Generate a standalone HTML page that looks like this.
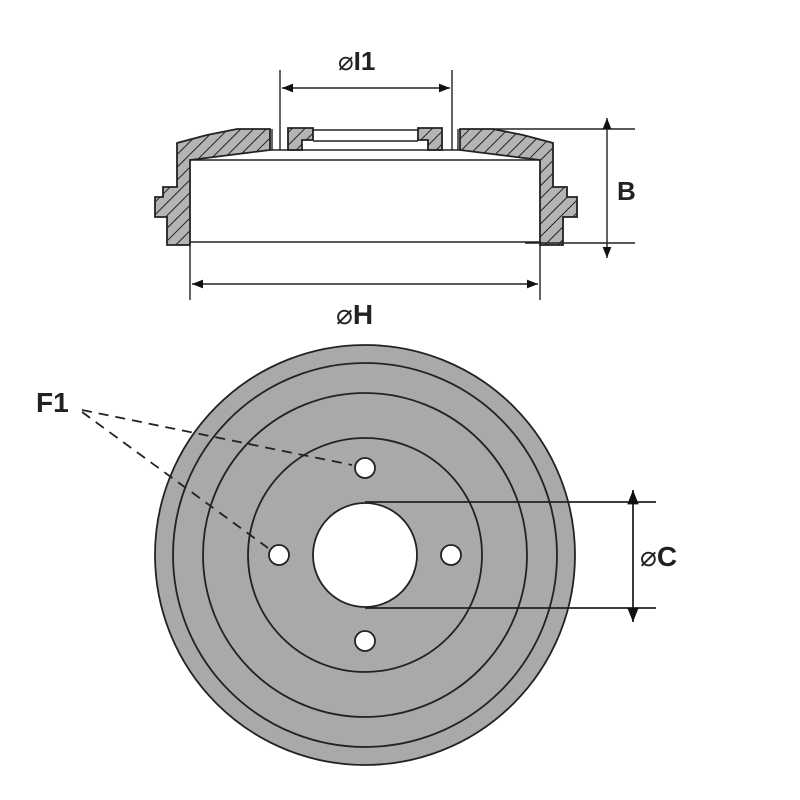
<!DOCTYPE html>
<html><head><style>body{margin:0;background:#fff}svg{display:block}</style></head><body>
<svg width="800" height="800" viewBox="0 0 800 800" xmlns="http://www.w3.org/2000/svg" font-family="Liberation Sans, sans-serif">
<defs>
<pattern id="h" width="9" height="9" patternUnits="userSpaceOnUse" patternTransform="rotate(45)">
<rect width="9" height="9" fill="#b4b4b4"/><line x1="0" y1="0" x2="0" y2="9" stroke="#222" stroke-width="2"/>
</pattern>
<marker id="a" viewBox="0 0 10 10" refX="10" refY="5" markerWidth="8" markerHeight="8" orient="auto-start-reverse"><path d="M0,1 L10,5 L0,9 z" fill="#111"/></marker>
</defs>
<g stroke="#222" stroke-width="1.8" fill="url(#h)">
<path d="M237,129 L270,129 L270,150 L190,160 L190,242 L190,245 L167,245 L167,217 L155,217 L155,197 L163,197 L163,187 L177,187 L177,143 L207,135 Z"/>
<path d="M493,129 L460,129 L460,150 L540,160 L540,245 L563,245 L563,217 L577,217 L577,197 L567,197 L567,187 L553,187 L553,143 L523,135 Z"/>
<path d="M288,128 L313,128 L313,140 L302,140 L302,150 L288,150 Z"/>
<path d="M442,128 L418,128 L418,140 L428,140 L428,150 L442,150 Z"/>
</g>
<g stroke="#222" stroke-width="1.4" fill="none">
<line x1="313" y1="130" x2="418" y2="130"/>
<line x1="313" y1="141" x2="418" y2="141"/>
<line x1="270" y1="150" x2="460" y2="150"/>
<line x1="190" y1="160" x2="540" y2="160"/>
<line x1="190" y1="242" x2="540" y2="242"/>
<line x1="272" y1="129" x2="272" y2="150"/>
<line x1="458" y1="129" x2="458" y2="150"/>
<line x1="280" y1="70" x2="280" y2="150"/>
<line x1="452" y1="70" x2="452" y2="150"/>
<line x1="282" y1="88" x2="450" y2="88" marker-start="url(#a)" marker-end="url(#a)"/>
<line x1="190" y1="245" x2="190" y2="300"/>
<line x1="540" y1="245" x2="540" y2="300"/>
<line x1="192" y1="284" x2="538" y2="284" marker-start="url(#a)" marker-end="url(#a)"/>
<line x1="493" y1="129" x2="635" y2="129"/>
<line x1="525" y1="243" x2="635" y2="243"/>
<line x1="607" y1="118" x2="607" y2="258" marker-start="url(#a)" marker-end="url(#a)"/>
</g>
<text x="338" y="70" font-size="26" fill="#222"><tspan font-weight="normal">⌀</tspan><tspan font-weight="bold">I1</tspan></text>
<text x="336" y="324" font-size="28" fill="#222"><tspan>⌀</tspan><tspan font-weight="bold">H</tspan></text>
<text x="617" y="200" font-size="26" font-weight="bold" fill="#222">B</text>
<g stroke="#222" stroke-width="1.8">
<circle cx="365" cy="555" r="210" fill="#a9a9a9"/>
<circle cx="365" cy="555" r="192" fill="none"/>
<circle cx="365" cy="555" r="162" fill="none"/>
<circle cx="365" cy="555" r="117" fill="none"/>
<circle cx="365" cy="555" r="52" fill="#fff"/>
<circle cx="365" cy="468" r="10" fill="#fff"/>
<circle cx="279" cy="555" r="10" fill="#fff"/>
<circle cx="451" cy="555" r="10" fill="#fff"/>
<circle cx="365" cy="641" r="10" fill="#fff"/>
<line x1="365" y1="502" x2="656" y2="502"/>
<line x1="365" y1="608" x2="656" y2="608"/>
<line x1="633" y1="490" x2="633" y2="622" marker-start="url(#a)" marker-end="url(#a)"/>
<g stroke-dasharray="10,7" fill="none">
<line x1="82" y1="410" x2="352" y2="465"/>
<line x1="82" y1="412" x2="268" y2="548"/>
</g>
</g>
<text x="36" y="412" font-size="28" font-weight="bold" fill="#222">F1</text>
<text x="640" y="566" font-size="28" fill="#222"><tspan>⌀</tspan><tspan font-weight="bold">C</tspan></text>
</svg>
</body></html>
